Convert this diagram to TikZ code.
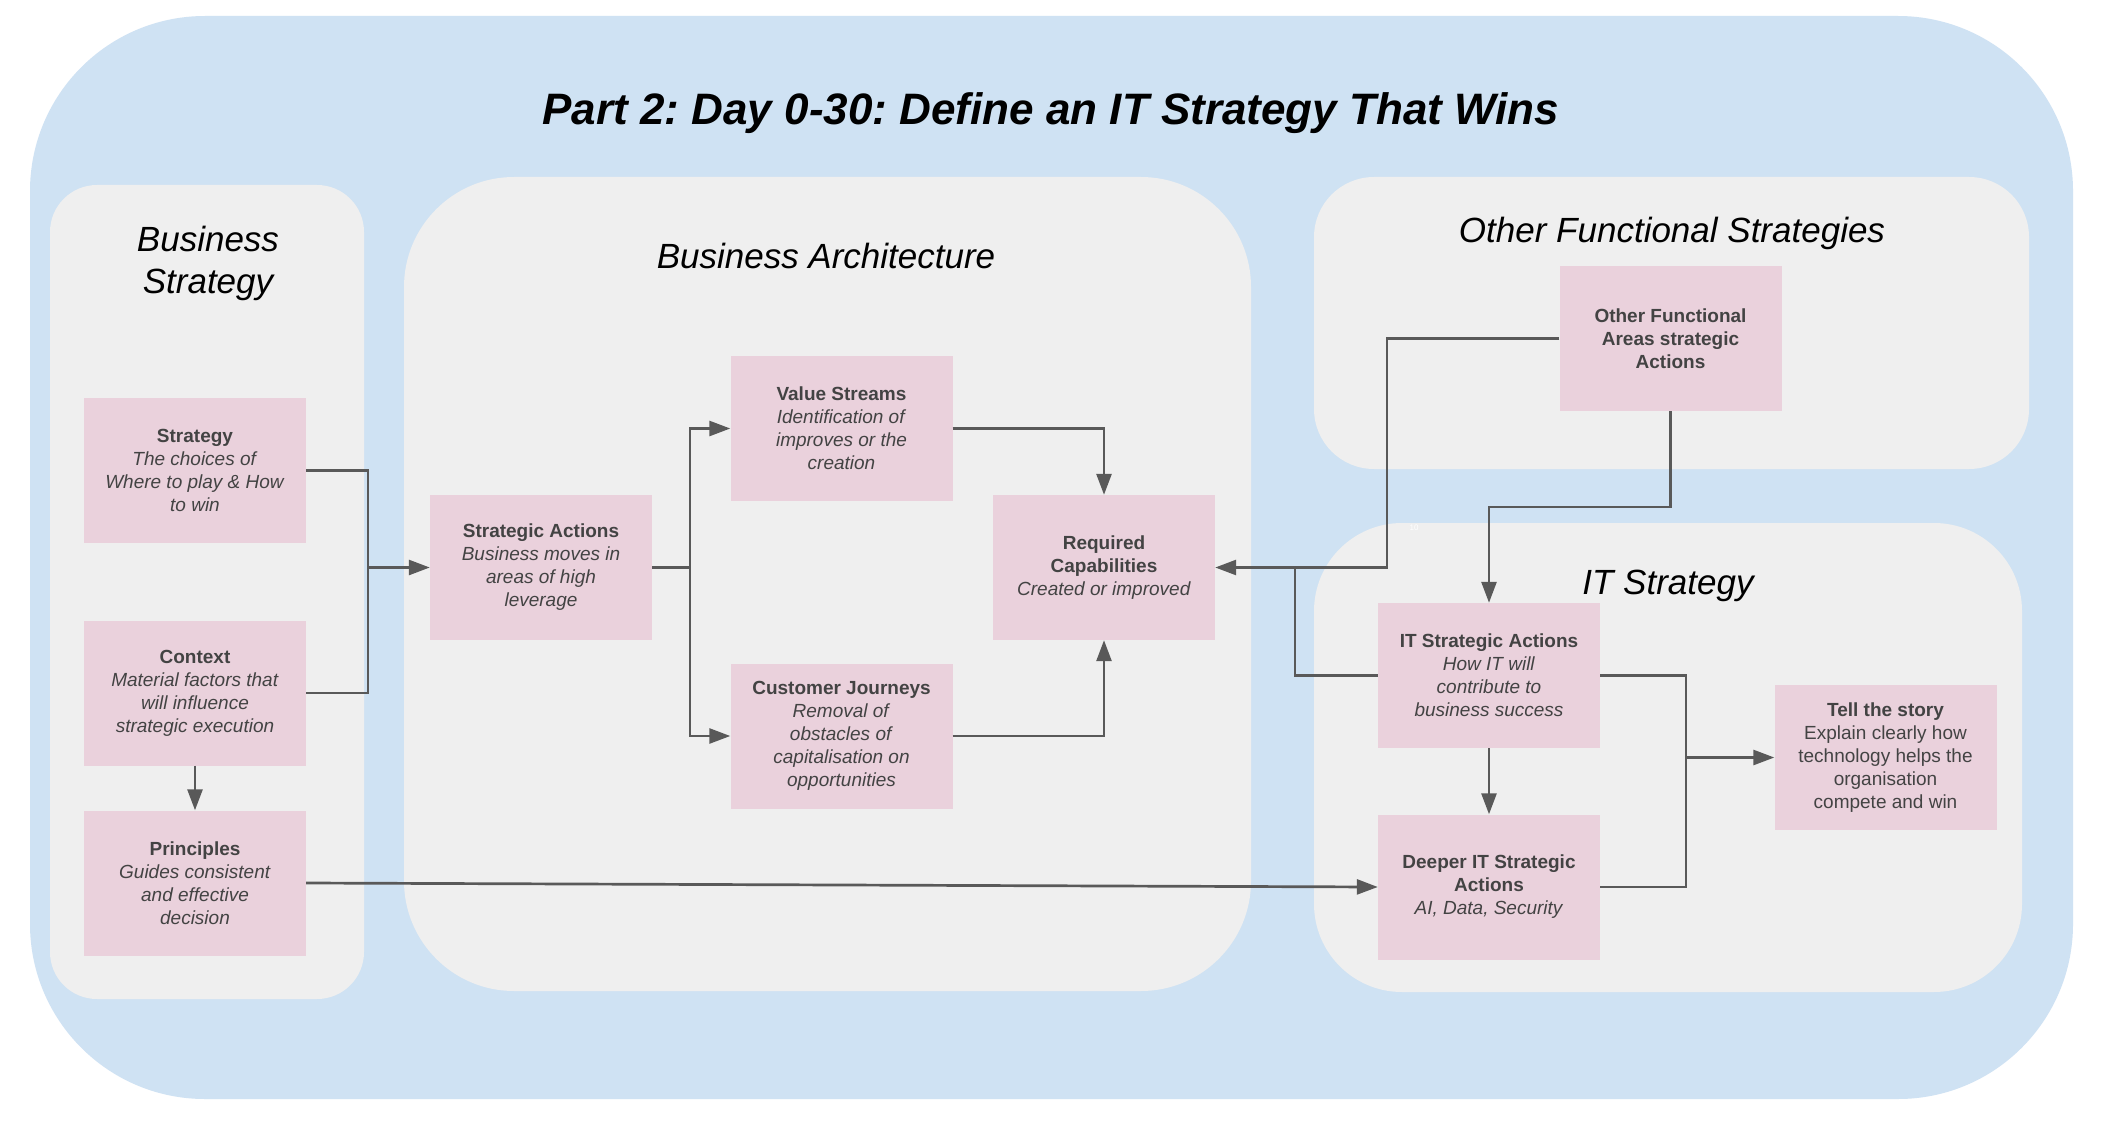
\documentclass[tikz,border=0pt]{standalone}
\usepackage{fontspec}
\setmainfont{Liberation Sans}
\usetikzlibrary{arrows.meta}
\frenchspacing
\definecolor{outerblue}{HTML}{CFE2F3}
\definecolor{panelgray}{HTML}{EFEFEF}
\definecolor{boxpink}{HTML}{EAD1DC}
\definecolor{txtgray}{HTML}{434343}
\definecolor{linegray}{HTML}{595959}
\tikzset{
  box/.style={rectangle, fill=boxpink, minimum width=222pt, minimum height=145pt, inner sep=0pt, align=center, text=txtgray, font=\fontsize{19}{23}\selectfont},
  panel/.style={fill=panelgray, draw=none},
  ptitle/.style={font=\fontsize{35}{42}\selectfont\itshape, text=black, align=center},
  conn/.style={draw=linegray, line width=2.7pt},
  arr/.style={conn, -{Triangle[length=21pt,width=15pt]}}
}
\begin{document}
\begin{tikzpicture}[x=1pt,y=-1pt]
\useasboundingbox (0,0) rectangle (2114,1126);
\fill[white] (0,0) rectangle (2114,1126);
% outer
\fill[outerblue, rounded corners=175pt] (30,16) rectangle (2073,1099);
% panels
\fill[panel, rounded corners=47pt] (50,185) rectangle (364,999);
\fill[panel, rounded corners=110pt] (404,177) rectangle (1251,991);
\fill[panel, rounded corners=60pt] (1314,177) rectangle (2029,469);
\fill[panel, rounded corners=88pt] (1314,523) rectangle (2022,992);
% titles
\node[font=\fontsize{44}{50}\selectfont\bfseries\itshape] (title) at (1051,113) {Part 2: Day 0-30: Define an IT Strategy That Wins};
\node[ptitle] (tbs) at (208,263) {Business\\Strategy};
\node[ptitle] (tba) at (826,256) {Business Architecture};
\node[ptitle] (tof) at (1672,233) {Other Functional Strategies};
\node[ptitle] (tit) at (1668,586) {IT Strategy};
\node[text=white, font=\fontsize{8}{9}\selectfont] (ten) at (1414,528) {10};
% boxes
\node[box] (strat) at (195,470.5) {\textbf{Strategy}\\\textit{The choices of}\\\textit{Where to play \& How}\\\textit{to win}};
\node[box] (ctx) at (195,693) {\textbf{Context}\\\textit{Material factors that}\\\textit{will influence}\\\textit{strategic execution}};
\node[box] (prin) at (195,883) {\textbf{Principles}\\\textit{Guides consistent}\\\textit{and effective}\\\textit{decision}};
\node[box] (sa) at (541,567.5) {\textbf{Strategic Actions}\\\textit{Business moves in}\\\textit{areas of high}\\\textit{leverage}};
\node[box] (vs) at (841.5,428.5) {\textbf{Value Streams}\\\textit{Identification of}\\\textit{improves or the}\\\textit{creation}};
\node[box] (cj) at (841.5,736) {\textbf{Customer Journeys}\\\textit{Removal of}\\\textit{obstacles of}\\\textit{capitalisation on}\\\textit{opportunities}};
\node[box] (rc) at (1104,567.5) {\textbf{Required}\\\textbf{Capabilities}\\\textit{Created or improved}};
\node[box] (ofa) at (1670.5,338.5) {\textbf{Other Functional}\\\textbf{Areas strategic}\\\textbf{Actions}};
\node[box] (itsa) at (1489,675.5) {\textbf{IT Strategic Actions}\\\textit{How IT will}\\\textit{contribute to}\\\textit{business success}};
\node[box] (deep) at (1489,887) {\textbf{Deeper IT Strategic}\\\textbf{Actions}\\\textit{AI, Data, Security}};
\node[box] (tell) at (1885.5,757.5) {\textbf{Tell the story}\\Explain clearly how\\technology helps the\\organisation\\compete and win};
% junctions
\coordinate (j1) at (368,567.5);
\coordinate (j2) at (690,567.5);
\coordinate (j3) at (1387,567.5);
\coordinate (j4) at (1295,567.5);
\coordinate (j5) at (1670.5,507);
\coordinate (j6) at (1489,507);
\coordinate (j7) at (1686,757.5);
% connectors
\draw[conn] (strat.east) -| (j1);
\draw[conn] (ctx.east) -| (j1);
\draw[arr] (j1) -- (sa.west);
\draw[conn] (sa.east) -- (j2);
\draw[arr] (j2) |- (vs.west);
\draw[arr] (j2) |- (cj.west);
\draw[arr] (vs.east) -| (rc.north);
\draw[arr] (cj.east) -| (rc.south);
\draw[arr] (ofa.west) -| (j3) -- (rc.east);
\draw[conn] (itsa.west) -| (j4);
\draw[arr] (ofa.south) -- (j5) -- (j6) -- (itsa.north);
\draw[arr] (itsa.south) -- (deep.north);
\draw[conn] (itsa.east) -| (j7);
\draw[conn] (deep.east) -| (j7);
\draw[arr] (j7) -- (tell.west);
\draw[arr] (ctx.south) -- (prin.north);
\draw[arr] (prin.east) -- (deep.west);
\end{tikzpicture}
\end{document}
